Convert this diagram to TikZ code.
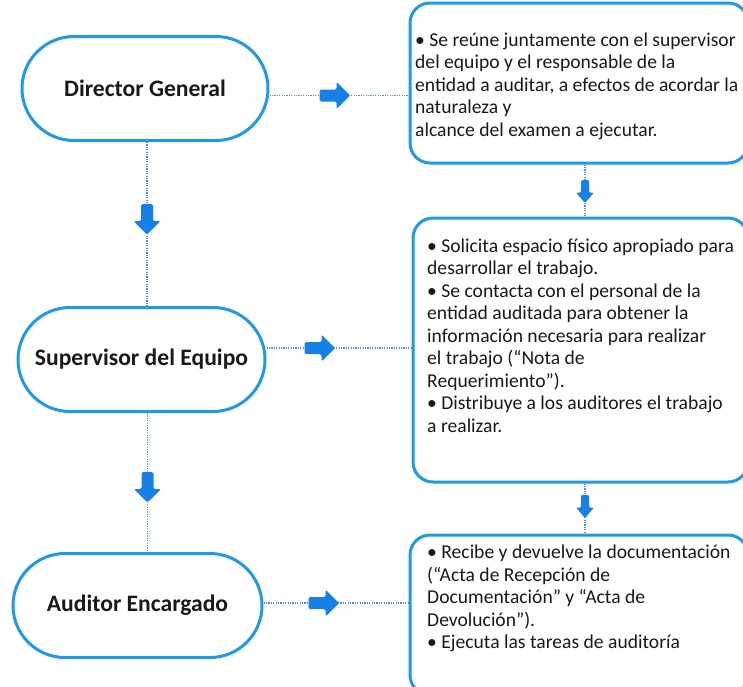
\documentclass[tikz,border=0pt]{standalone}
\usepackage{fontspec}
\setmainfont{Carlito}
\usetikzlibrary{shapes.misc,decorations.markings}

\definecolor{boxblue}{RGB}{30,155,228}
\definecolor{arrowblue}{RGB}{22,128,228}
\definecolor{dotblue}{RGB}{75,145,215}
\definecolor{inktext}{RGB}{25,25,25}

\tikzset{
  role/.style={rounded rectangle, draw=boxblue, line width=3pt, fill=white,
    minimum height=104pt, inner sep=0pt, text=inktext,
    font=\fontsize{23.6}{27}\selectfont\bfseries},
  taskbox/.style={draw=boxblue, line width=3pt, rounded corners=20pt,
    fill=white, inner sep=0pt},
  tasktext/.style={anchor=north west, align=left, inner sep=0pt, text=inktext,
    font=\fontsize{19.6}{22.5}\selectfont},
  conn/.style={draw=dotblue, line width=1.6pt, dash pattern=on 1.2pt off 1.2pt},
  bigarrow/.style={postaction={decorate, decoration={markings,
    mark=at position #1 with {\fill[arrowblue, rounded corners=1.5pt]
      (-15,-6) -- (2,-6) -- (2,-13.5) -- (15.5,0) -- (2,13.5) -- (2,6) -- (-15,6) -- cycle;}}}},
  smallarrow/.style={postaction={decorate, decoration={markings,
    mark=at position #1 with {\fill[arrowblue, rounded corners=1.2pt]
      (-11.5,-4) -- (1,-4) -- (1,-9) -- (11.5,0) -- (1,9) -- (1,4) -- (-11.5,4) -- cycle;}}}}
}

\begin{document}
\begin{tikzpicture}[x=1pt,y=-1pt]
\useasboundingbox (0,0) rectangle (743,686);
\clip (0,0) rectangle (743,686);

% roles
\node[role, minimum width=246pt] (dg)  at (145,88.5)   {Director General};
\node[role, minimum width=247pt] (sup) at (141.5,359.5) {Supervisor del Equipo};
\node[role, minimum width=249pt] (aud) at (137.5,605.5) {Auditor Encargado};

% task boxes
\node[taskbox, minimum width=338pt, minimum height=160pt] (b1) at (579,83) {};
\node[taskbox, minimum width=335pt, minimum height=264pt] (b2) at (580.5,350) {};
\node[taskbox, minimum width=338pt, minimum height=160pt] (b3) at (579,615) {};

\node[tasktext] (t1) at (415,32.5) {• Se reúne juntamente con el supervisor\\
del equipo y el responsable de la\\
entidad a auditar, a efectos de acordar la\\
naturaleza y\\
alcance del examen a ejecutar.};

\node[tasktext] (t2) at (427,238.5) {• Solicita espacio físico apropiado para\\
desarrollar el trabajo.\\
• Se contacta con el personal de la\\
entidad auditada para obtener la\\
información necesaria para realizar\\
el trabajo (“Nota de\\
Requerimiento”).\\
• Distribuye a los auditores el trabajo\\
a realizar.};

\node[tasktext] (t3) at (427,545) {• Recibe y devuelve la documentación\\
(“Acta de Recepción de\\
Documentación” y “Acta de\\
Devolución”).\\
• Ejecuta las tareas de auditoría};

% chain of roles
\draw[conn, bigarrow=77pt] ([xshift=2pt]dg.south) -- ([xshift=2pt]dg.south |- sup.north);
\draw[conn, bigarrow=74pt] ([xshift=6pt]sup.south) -- ([xshift=6pt]sup.south |- aud.north);

% role to task
\draw[conn, bigarrow=65pt] ([yshift=-7pt]dg.east) -- ([yshift=-7pt]dg.east -| b1.west);
\draw[conn, bigarrow=53pt] ([yshift=11.5pt]sup.east) -- ([yshift=11.5pt]sup.east -| b2.west);
\draw[conn, bigarrow=60pt] ([yshift=2.5pt]aud.east) -- ([yshift=2.5pt]aud.east -| b3.west);

% task to task
\draw[conn, smallarrow=27pt] ([xshift=6pt]b1.south) -- ([xshift=6pt]b1.south |- b2.north);
\draw[conn, smallarrow=23pt] ([xshift=4.5pt]b2.south) -- ([xshift=4.5pt]b2.south |- b3.north);
\end{tikzpicture}
\end{document}
